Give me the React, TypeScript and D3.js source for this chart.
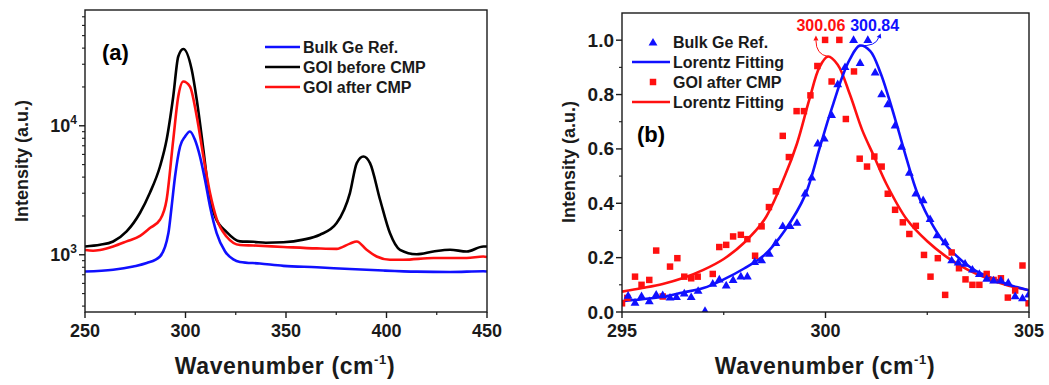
import React from "react";
import * as d3 from "d3";

const W = 1049;
const H = 385;
const FONT = "'Liberation Sans', Arial, Helvetica, sans-serif";
const BLUE = "#1010ff";
const RED = "#ff1010";

// ---- panel (a): Raman spectra, log intensity ----
const bulkA: [number, number][] = [
  [250, 742], [264, 765], [274, 811], [280.7, 862], [287.3, 970], [291.5, 1473],
  [293.1, 2368], [294.8, 4044], [297.3, 6915], [299.8, 8260], [302.2, 9030],
  [304.7, 7786], [307.2, 5780], [309.7, 3813], [312.2, 2368], [315.5, 1473],
  [319.7, 1060], [323.8, 920], [327.1, 880], [337, 855], [348.7, 820], [365.3, 800],
  [381.8, 775], [398.4, 755], [415, 740], [431.6, 735], [448.2, 745], [450, 742],
];
const beforeA: [number, number][] = [
  [250, 1160], [257.5, 1195], [264, 1268], [270.7, 1516], [277.4, 2117], [282.3, 3025],
  [287.3, 4834], [290.6, 7786], [293.9, 16870], [296.4, 34450], [298.9, 39350],
  [303.1, 27170], [305.6, 15910], [308.9, 6515], [311.4, 3190], [314.7, 1982],
  [320.5, 1500], [327.1, 1270], [333.7, 1260], [340, 1240], [348.7, 1250], [358.6, 1310],
  [366.9, 1429], [375.2, 1761], [381.8, 3008], [385.2, 5140], [388.5, 5780],
  [391.8, 5140], [396.8, 2670], [401.7, 1473], [406.7, 1093], [415, 1010],
  [423.3, 1060], [431.6, 1093], [439.9, 1060], [448.2, 1160], [450, 1160],
];
const afterA: [number, number][] = [
  [250, 1090], [254, 1075], [257.5, 1090], [264, 1160], [270.7, 1270], [277.4, 1400],
  [282.3, 1610], [287.3, 1868], [290.6, 2670], [293.9, 7786], [296.4, 16870],
  [298.9, 22050], [302.2, 20180], [305.6, 11800], [308.9, 5780], [312.2, 3008],
  [315.5, 1900], [320.5, 1380], [327.1, 1190], [333.7, 1180], [348.7, 1150],
  [365.3, 1120], [375.2, 1110], [381.8, 1220], [385.2, 1268], [390.1, 1093],
  [395.1, 970], [401.7, 915], [408.4, 915], [423.3, 943], [439.9, 943], [448.2, 970],
  [450, 960],
];
const legendA = ["Bulk Ge Ref.", "GOI before CMP", "GOI after CMP"];
const xTicksA = [250, 300, 350, 400, 450];

// ---- panel (b): normalised peak with Lorentz fits ----
const bulkPts: [number, number][] = [
  [295.15, 0.062], [295.32, 0.036], [295.48, 0.06], [295.67, 0.042], [295.84, 0.066],
  [296.0, 0.064], [296.18, 0.055], [296.34, 0.057], [296.53, 0.07], [296.7, 0.057],
  [296.87, 0.08], [297.04, 0.006], [297.23, 0.106], [297.39, 0.122], [297.56, 0.1],
  [297.73, 0.12], [297.92, 0.133], [298.08, 0.133], [298.26, 0.186], [298.43, 0.192],
  [298.62, 0.216], [298.78, 0.256], [298.95, 0.318], [299.13, 0.318], [299.3, 0.33],
  [299.5, 0.438], [299.66, 0.497], [299.81, 0.622], [299.97, 0.64], [300.15, 0.727],
  [300.3, 0.84], [300.48, 0.903], [300.69, 1.003], [300.85, 0.918], [301.04, 1.003],
  [301.22, 0.883], [301.38, 0.803], [301.53, 0.766], [301.71, 0.688], [301.87, 0.61],
  [302.06, 0.514], [302.22, 0.438], [302.4, 0.413], [302.57, 0.344], [302.74, 0.284],
  [302.94, 0.259], [303.1, 0.192], [303.26, 0.184], [303.43, 0.18], [303.61, 0.158],
  [303.78, 0.142], [303.96, 0.124], [304.13, 0.118], [304.31, 0.118], [304.49, 0.11],
  [304.66, 0.06], [304.84, 0.053], [304.99, 0.066],
];
const afterPts: [number, number][] = [
  [295.0, 0.032], [295.13, 0.052], [295.32, 0.13], [295.48, 0.1], [295.67, 0.118],
  [295.84, 0.226], [296.0, 0.057], [296.18, 0.167], [296.36, 0.198], [296.53, 0.13],
  [296.7, 0.124], [296.86, 0.13], [297.23, 0.14], [297.39, 0.239], [297.56, 0.247],
  [297.73, 0.278], [297.92, 0.284], [298.08, 0.268], [298.27, 0.207], [298.43, 0.315],
  [298.61, 0.386], [298.78, 0.444], [298.95, 0.648], [299.1, 0.57], [299.29, 0.739],
  [299.47, 0.739], [299.63, 0.797], [299.8, 0.905], [299.99, 1.001], [300.15, 0.848],
  [300.34, 1.001], [300.5, 0.71], [300.7, 0.885], [300.84, 0.564], [301.02, 0.535],
  [301.2, 0.572], [301.38, 0.535], [301.53, 0.435], [301.71, 0.376], [301.9, 0.33],
  [302.06, 0.287], [302.22, 0.317], [302.42, 0.21], [302.58, 0.13], [302.76, 0.198],
  [302.94, 0.063], [303.1, 0.219], [303.28, 0.161], [303.44, 0.12], [303.61, 0.1],
  [303.78, 0.1], [303.96, 0.14], [304.13, 0.118], [304.31, 0.124], [304.48, 0.053],
  [304.66, 0.079], [304.84, 0.171], [304.99, 0.032],
];
const bulkFit: [number, number][] = [
  [295, 0.04], [295.5, 0.047], [296, 0.056], [296.5, 0.072], [297, 0.088], [297.5, 0.12],
  [298, 0.16], [298.5, 0.21], [299, 0.3], [299.5, 0.43], [299.85, 0.6], [300.05, 0.7],
  [300.2, 0.77], [300.4, 0.86], [300.6, 0.93], [300.84, 0.98], [301.1, 0.96],
  [301.35, 0.88], [301.55, 0.79], [301.75, 0.69], [302, 0.56], [302.25, 0.44],
  [302.65, 0.315], [303, 0.24], [303.6, 0.16], [304.2, 0.118], [304.6, 0.096], [305, 0.08],
];
const afterFit: [number, number][] = [
  [295, 0.075], [295.5, 0.088], [296, 0.103], [296.5, 0.125], [297, 0.155], [297.5, 0.195],
  [298, 0.255], [298.5, 0.34], [299, 0.5], [299.3, 0.62], [299.6, 0.78], [299.85, 0.9],
  [300.06, 0.94], [300.3, 0.91], [300.6, 0.8], [300.9, 0.67], [301.2, 0.57], [301.5, 0.47],
  [302, 0.34], [302.5, 0.26], [303, 0.2], [303.5, 0.155], [304, 0.122], [304.5, 0.097],
  [305, 0.08],
];
const peakAfter = { x: 300.06, y: 0.94, label: "300.06" };
const peakBulk = { x: 300.84, y: 0.98, label: "300.84" };
const legendB = ["Bulk Ge Ref.", "Lorentz Fitting", "GOI after CMP", "Lorentz Fitting"];
const xTicksB = [295, 300, 305];
const yTicksB = [0, 0.2, 0.4, 0.6, 0.8, 1.0];

const App = () => {
  // panel (a) scales
  const xA = d3.scaleLinear().domain([250, 450]).range([85, 487]);
  const yA = d3.scaleLog().domain([360, 79000]).range([312, 10]);
  const lineA = d3
    .line<[number, number]>()
    .x((d) => xA(d[0]))
    .y((d) => yA(d[1]))
    .curve(d3.curveMonotoneX);

  const minorLogA: number[] = [];
  for (const dec of [100, 1000, 10000]) {
    for (let m = 2; m <= 9; m++) {
      const v = dec * m;
      if (v > 360 && v < 79000) minorLogA.push(v);
    }
  }

  // panel (b) scales
  const xB = d3.scaleLinear().domain([295, 305]).range([622, 1029]);
  const yB = d3.scaleLinear().domain([0, 1.1]).range([312, 13]);
  const lineB = d3
    .line<[number, number]>()
    .x((d) => xB(d[0]))
    .y((d) => yB(d[1]))
    .curve(d3.curveCatmullRom);
  const tri = d3.symbol(d3.symbolTriangle, 34)()!;
  const sq = d3.symbol(d3.symbolSquare, 42)()!;

  const axisColor = "#1a1a1a";
  const tickFont = { fontFamily: FONT, fontWeight: 700, fontSize: 18, fill: "#1a1a1a" };

  const arrowR = { x0: xB(peakAfter.x), y0: yB(peakAfter.y) };
  const arrowB = { x0: xB(peakBulk.x), y0: yB(peakBulk.y) };

  return (
    <svg
      width={W}
      height={H}
      style={{ position: "absolute", left: 0, top: 0, background: "#fff" }}
    >
      {/* ===== panel (a) ===== */}
      <g>
        <clipPath id="clipA">
          <rect x={85} y={10} width={402} height={302} />
        </clipPath>
        <g clipPath="url(#clipA)" fill="none" strokeWidth={2.6} strokeLinejoin="round">
          <path d={lineA(beforeA)!} stroke="#000" />
          <path d={lineA(afterA)!} stroke={RED} />
          <path d={lineA(bulkA)!} stroke={BLUE} />
        </g>
        <rect x={85} y={10} width={402} height={302} fill="none" stroke={axisColor} strokeWidth={1.4} />
        {xTicksA.map((t) => (
          <g key={t}>
            <line x1={xA(t)} x2={xA(t)} y1={312} y2={318} stroke={axisColor} strokeWidth={1.4} />
            <text x={xA(t)} y={337} textAnchor="middle" {...tickFont}>{t}</text>
          </g>
        ))}
        {xTicksA.slice(0, -1).map((t) => (
          <line key={t} x1={xA(t + 25)} x2={xA(t + 25)} y1={312} y2={315} stroke={axisColor} strokeWidth={1.2} />
        ))}
        {[1000, 10000].map((t) => (
          <g key={t}>
            <line x1={79} x2={85} y1={yA(t)} y2={yA(t)} stroke={axisColor} strokeWidth={1.4} />
            <text x={77} y={yA(t) + 6} textAnchor="end" {...tickFont}>
              10<tspan fontSize={12} dy={-8}>{t === 1000 ? "3" : "4"}</tspan>
            </text>
          </g>
        ))}
        {minorLogA.map((t) => (
          <line key={t} x1={82} x2={85} y1={yA(t)} y2={yA(t)} stroke={axisColor} strokeWidth={1.1} />
        ))}
        <text x={102} y={60} fontFamily={FONT} fontWeight={700} fontSize={22}>(a)</text>
        {legendA.map((s, i) => (
          <g key={s} transform={`translate(265,${47 + i * 20})`}>
            <line x1={0} x2={35} y1={0} y2={0} stroke={[BLUE, "#000", RED][i]} strokeWidth={2.6} />
            <text x={38} y={6} fontFamily={FONT} fontWeight={700} fontSize={16} fill="#1a1a1a">{s}</text>
          </g>
        ))}
        <text
          transform="translate(28,161) rotate(-90)"
          textAnchor="middle"
          fontFamily={FONT}
          fontWeight={700}
          fontSize={18}
          fill="#1a1a1a"
        >
          Intensity (a.u.)
        </text>
        <text x={285} y={374} textAnchor="middle" fontFamily={FONT} fontWeight={700} fontSize={23} letterSpacing={0.6} fill="#1a1a1a">
          Wavenumber (cm<tspan fontSize={13} dy={-10}>-1</tspan><tspan dy={10}>)</tspan>
        </text>
      </g>

      {/* ===== panel (b) ===== */}
      <g>
        <clipPath id="clipB">
          <rect x={622} y={13} width={407} height={299} />
        </clipPath>
        <g clipPath="url(#clipB)">
          <path d={lineB(afterFit)!} fill="none" stroke={RED} strokeWidth={2.6} />
          <path d={lineB(bulkFit)!} fill="none" stroke={BLUE} strokeWidth={2.6} />
          {afterPts.map((d, i) => (
            <path key={"r" + i} d={sq} transform={`translate(${xB(d[0])},${yB(d[1])})`} fill={RED} />
          ))}
          {bulkPts.map((d, i) => (
            <path key={"b" + i} d={tri} transform={`translate(${xB(d[0])},${yB(d[1]) + 1})`} fill={BLUE} />
          ))}
        </g>
        <rect x={622} y={13} width={407} height={299} fill="none" stroke={axisColor} strokeWidth={1.4} />
        {xTicksB.map((t) => (
          <g key={t}>
            <line x1={xB(t)} x2={xB(t)} y1={312} y2={318} stroke={axisColor} strokeWidth={1.4} />
            <text x={xB(t)} y={337} textAnchor="middle" {...tickFont}>{t}</text>
          </g>
        ))}
        {[297.5, 302.5].map((t) => (
          <line key={t} x1={xB(t)} x2={xB(t)} y1={312} y2={315} stroke={axisColor} strokeWidth={1.2} />
        ))}
        {yTicksB.map((t) => (
          <g key={t}>
            <line x1={616} x2={622} y1={yB(t)} y2={yB(t)} stroke={axisColor} strokeWidth={1.4} />
            <text x={614} y={yB(t) + 6.5} textAnchor="end" {...tickFont} fontSize={19}>{t.toFixed(1)}</text>
          </g>
        ))}
        {[0.1, 0.3, 0.5, 0.7, 0.9].map((t) => (
          <line key={t} x1={619} x2={622} y1={yB(t)} y2={yB(t)} stroke={axisColor} strokeWidth={1.1} />
        ))}

        {/* peak annotations */}
        <g fill="none" strokeWidth={1}>
          <path
            d={`M${arrowR.x0},${arrowR.y0} Q${arrowR.x0 - 12},${arrowR.y0 - 2} ${arrowR.x0 - 12},${arrowR.y0 - 16}`}
            stroke={RED}
          />
          <path
            d={`M${arrowB.x0},${arrowB.y0} Q${arrowB.x0 + 16},${arrowB.y0 + 1} ${arrowB.x0 + 19},${arrowB.y0 - 8}`}
            stroke={BLUE}
          />
        </g>
        <path
          d={`M${arrowR.x0 - 12},${arrowR.y0 - 21} l-2.5,5 l5,0 z`}
          fill={RED}
        />
        <path
          d={`M${arrowB.x0 + 21},${arrowB.y0 - 12} l-4,3.5 l4.5,1.5 z`}
          fill={BLUE}
        />
        <text x={xB(peakAfter.x) - 7} y={31} textAnchor="middle" fontFamily={FONT} fontWeight={700} fontSize={16} fill={RED}>
          {peakAfter.label}
        </text>
        <text x={xB(peakBulk.x) + 15} y={31} textAnchor="middle" fontFamily={FONT} fontWeight={700} fontSize={16} fill={BLUE}>
          {peakBulk.label}
        </text>

        <text x={637} y={142} fontFamily={FONT} fontWeight={700} fontSize={22}>(b)</text>
        {legendB.map((s, i) => (
          <g key={i} transform={`translate(653,${42 + i * 20})`}>
            {i === 0 && <path d={tri} fill={BLUE} transform="translate(0,1)" />}
            {i === 2 && <path d={sq} fill={RED} />}
            {(i === 1 || i === 3) && (
              <line x1={-21} x2={17} y1={0} y2={0} stroke={i === 1 ? BLUE : RED} strokeWidth={2.6} />
            )}
            <text x={20} y={6} fontFamily={FONT} fontWeight={700} fontSize={16} fill="#1a1a1a">{s}</text>
          </g>
        ))}
        <text
          transform="translate(575,162) rotate(-90)"
          textAnchor="middle"
          fontFamily={FONT}
          fontWeight={700}
          fontSize={18}
          fill="#1a1a1a"
        >
          Intensity (a.u.)
        </text>
        <text x={825} y={374} textAnchor="middle" fontFamily={FONT} fontWeight={700} fontSize={23} letterSpacing={0.6} fill="#1a1a1a">
          Wavenumber (cm<tspan fontSize={13} dy={-10}>-1</tspan><tspan dy={10}>)</tspan>
        </text>
      </g>
    </svg>
  );
};

export default App;
